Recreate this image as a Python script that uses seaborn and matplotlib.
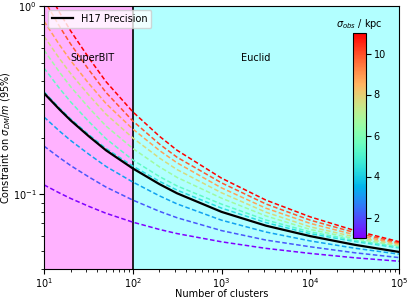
import numpy as np
import pandas as pd
import seaborn as sns
import matplotlib
matplotlib.use('Agg')
import matplotlib.pyplot as plt
from matplotlib.cm import ScalarMappable
from matplotlib.colors import Normalize

# number of clusters
n_clusters = [10, 15, 20, 32, 50, 100, 200, 316, 1000, 3160, 10000, 31600, 100000]

# sigma_obs (kpc) for each dashed curve
sigma_obs = [1.0, 2.1, 3.2, 4.3, 5.4, 6.6, 7.7, 8.8, 9.9, 11.0]

# constraint on sigma_DM/m for each sigma_obs
curve_1 = [0.112, 0.1013, 0.0948, 0.0861, 0.0791, 0.071, 0.0649, 0.0617, 0.0558, 0.0515, 0.0484, 0.0459, 0.044]
curve_2 = [0.18, 0.156, 0.1418, 0.1234, 0.109, 0.093, 0.081, 0.0749, 0.064, 0.057, 0.0525, 0.0488, 0.046]
curve_3 = [0.257, 0.216, 0.1927, 0.163, 0.1403, 0.116, 0.0979, 0.0887, 0.0727, 0.0629, 0.0564, 0.0516, 0.048]
curve_4 = [0.35, 0.286, 0.2508, 0.207, 0.1747, 0.141, 0.117, 0.105, 0.0843, 0.0706, 0.0616, 0.056, 0.0518]
curve_5 = [0.468, 0.364, 0.309, 0.243, 0.197, 0.152, 0.124, 0.1105, 0.0885, 0.0729, 0.063, 0.0568, 0.0524]
curve_6 = [0.583, 0.444, 0.372, 0.288, 0.230, 0.175, 0.1396, 0.1227, 0.0952, 0.0766, 0.0649, 0.058, 0.0531]
curve_7 = [0.69, 0.524, 0.437, 0.336, 0.266, 0.199, 0.1555, 0.135, 0.1017, 0.0802, 0.067, 0.0593, 0.0538]
curve_8 = [0.83, 0.620, 0.512, 0.387, 0.303, 0.222, 0.1706, 0.1466, 0.108, 0.0842, 0.0699, 0.0608, 0.0545]
curve_9 = [1.08, 0.777, 0.627, 0.458, 0.347, 0.245, 0.1845, 0.157, 0.1148, 0.0887, 0.0727, 0.0625, 0.0552]
curve_10 = [1.30, 0.922, 0.736, 0.53, 0.396, 0.274, 0.203, 0.171, 0.1216, 0.093, 0.0757, 0.0641, 0.0559]

# H17 precision
h17 = [0.344, 0.2815, 0.2464, 0.203, 0.1709, 0.137, 0.113, 0.101, 0.0805, 0.068, 0.0598, 0.0538, 0.0493]

curves = [curve_1, curve_2, curve_3, curve_4, curve_5,
          curve_6, curve_7, curve_8, curve_9, curve_10]

rows = []
for s, c in zip(sigma_obs, curves):
    for n, v in zip(n_clusters, c):
        rows.append({'N': n, 'constraint': v, 'sigma': s})
df = pd.DataFrame(rows)

plt.rcParams['font.size'] = 7

fig = plt.figure(figsize=(4.07, 2.99), dpi=100)
ax = fig.add_axes([44 / 407, 1 - 269 / 299, 355 / 407, 263 / 299])

ax.axvspan(10, 100, color='magenta', alpha=0.3, lw=0)
ax.axvspan(100, 1e5, color='cyan', alpha=0.3, lw=0)
ax.axvline(100, color='k', lw=1.2)

norm = Normalize(vmin=1, vmax=11)
sns.lineplot(data=df, x='N', y='constraint', hue='sigma', palette='rainbow',
             hue_norm=norm, linestyle=(0, (3, 1.6)), lw=1.1, legend=False, ax=ax)
sns.lineplot(x=n_clusters, y=h17, color='k', lw=1.6, label='H17 Precision', ax=ax)

ax.set_xscale('log')
ax.set_yscale('log')
ax.set_xlim(10, 1e5)
ax.set_ylim(0.04, 1)
ax.tick_params(labelsize=7, pad=2)
ax.set_xlabel('Number of clusters', labelpad=-1)
ax.set_ylabel(r'Constraint on $\sigma_{DM}/m$ (95%)', labelpad=0)

ax.text(35, 0.53, 'SuperBIT', ha='center', va='center')
ax.text(2400, 0.53, 'Euclid', ha='center', va='center')

ax.legend(loc='upper left', fontsize=7, handlelength=2.2, borderaxespad=0.4)

cax = fig.add_axes([353 / 407, 1 - 238 / 299, 13 / 407, 205 / 299])
sm = ScalarMappable(norm=norm, cmap='rainbow')
cb = fig.colorbar(sm, cax=cax, ticks=[2, 4, 6, 8, 10])
cb.ax.tick_params(labelsize=7, pad=2)
cax.set_title(r'$\sigma_{obs}$ / kpc', fontsize=7, pad=4)

fig.savefig('out.png', dpi=100)
